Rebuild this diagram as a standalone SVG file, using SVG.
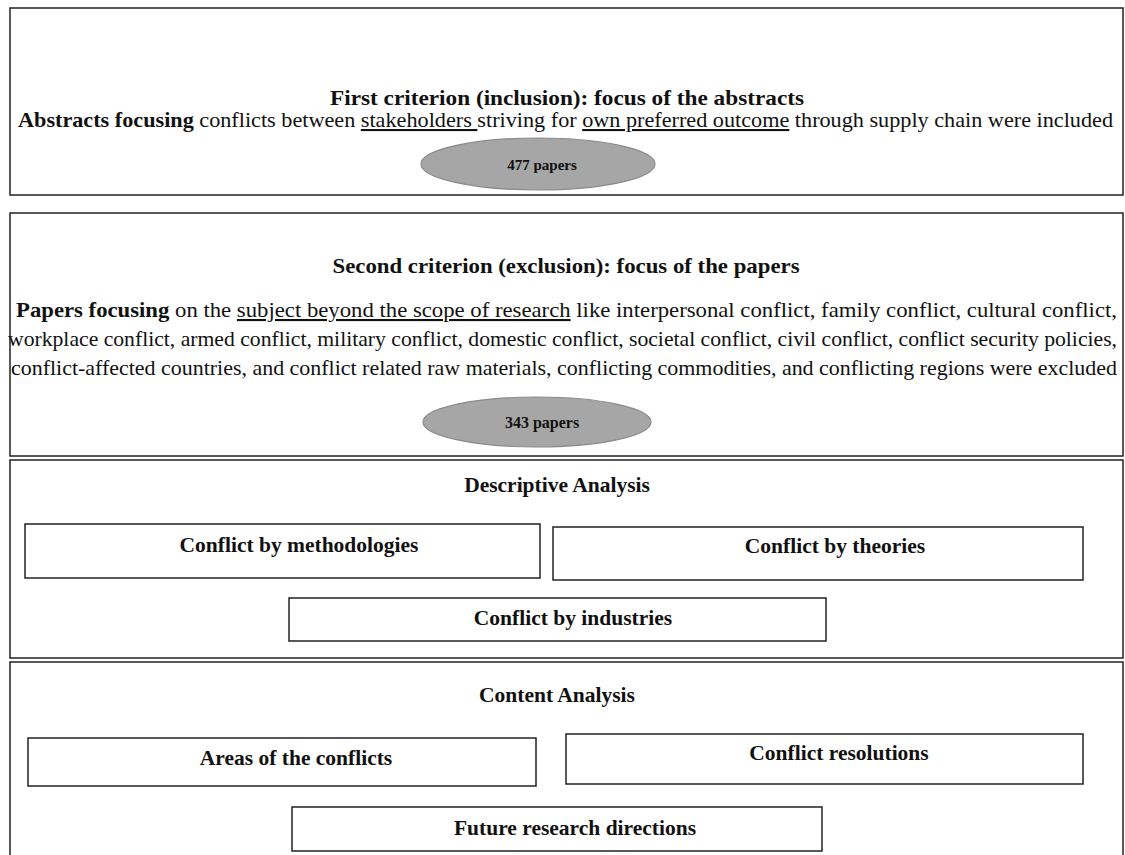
<svg xmlns="http://www.w3.org/2000/svg" width="1125" height="855" viewBox="0 0 1125 855" font-family="Liberation Serif, Times New Roman, serif">
<style>
.frame{fill:#fff;stroke:#222;stroke-width:1.5}
.box{fill:#fff;stroke:#222;stroke-width:1.5}
.ell{fill:#a6a6a6;stroke:#8a8a8a;stroke-width:1.2}
text{fill:#111}
.t{font-size:21px;font-weight:bold;text-anchor:middle}
.p{font-size:21px}
.b{font-weight:bold}
.u{text-decoration:underline}
.n{font-weight:bold;text-anchor:middle}
.c{font-size:21.5px;font-weight:bold;text-anchor:middle}
</style>
<rect width="1125" height="855" fill="#fff"/>
<g id="criterion1">
<rect class="frame" x="10" y="8" width="1113" height="187"/>
<text class="t" x="567" y="105" textLength="474" lengthAdjust="spacingAndGlyphs">First criterion (inclusion): focus of the abstracts</text>
<text class="p" x="18" y="127" textLength="1095" lengthAdjust="spacingAndGlyphs"><tspan class="b">Abstracts focusing</tspan> conflicts between <tspan class="u">stakeholders </tspan>striving for <tspan class="u">own preferred outcome</tspan> through supply chain were included</text>
<ellipse class="ell" cx="538" cy="164" rx="117" ry="26"/>
<text class="n" x="542" y="170" font-size="15">477 papers</text>
</g>
<g id="criterion2">
<rect class="frame" x="10" y="213" width="1113" height="243"/>
<text class="t" x="566" y="273" textLength="467" lengthAdjust="spacingAndGlyphs">Second criterion (exclusion): focus of the papers</text>
<text class="p" x="16" y="317" textLength="1101" lengthAdjust="spacingAndGlyphs"><tspan class="b">Papers focusing</tspan> on the <tspan class="u">subject beyond the scope of research</tspan> like interpersonal conflict, family conflict, cultural conflict,</text>
<text class="p" x="8" y="346" textLength="1109" lengthAdjust="spacingAndGlyphs">workplace conflict, armed conflict, military conflict, domestic conflict, societal conflict, civil conflict, conflict security policies,</text>
<text class="p" x="11" y="375" textLength="1106" lengthAdjust="spacingAndGlyphs">conflict-affected countries, and conflict related raw materials, conflicting commodities, and conflicting regions were excluded</text>
<ellipse class="ell" cx="537" cy="422" rx="114" ry="25"/>
<text class="n" x="542" y="428" font-size="16">343 papers</text>
</g>
<g id="descriptive">
<rect class="frame" x="10" y="460" width="1113" height="198"/>
<text class="c" x="557" y="492">Descriptive Analysis</text>
</g>
<g id="methodologies">
<rect class="box" x="25" y="524" width="515" height="54"/>
<text class="c" x="299" y="552">Conflict by methodologies</text>
</g>
<g id="theories">
<rect class="box" x="553" y="527" width="530" height="53"/>
<text class="c" x="835" y="553">Conflict by theories</text>
</g>
<g id="industries">
<rect class="box" x="289" y="598" width="537" height="43"/>
<text class="c" x="573" y="625">Conflict by industries</text>
</g>
<g id="content">
<rect class="frame" x="10" y="662" width="1113" height="200"/>
<text class="c" x="557" y="702">Content Analysis</text>
</g>
<g id="areas">
<rect class="box" x="28" y="738" width="508" height="48"/>
<text class="c" x="296" y="765">Areas of the conflicts</text>
</g>
<g id="resolutions">
<rect class="box" x="566" y="734" width="517" height="50"/>
<text class="c" x="839" y="760">Conflict resolutions</text>
</g>
<g id="future">
<rect class="box" x="292" y="807" width="530" height="44"/>
<text class="c" x="575" y="835">Future research directions</text>
</g>
<g id="connectors"></g>
</svg>
